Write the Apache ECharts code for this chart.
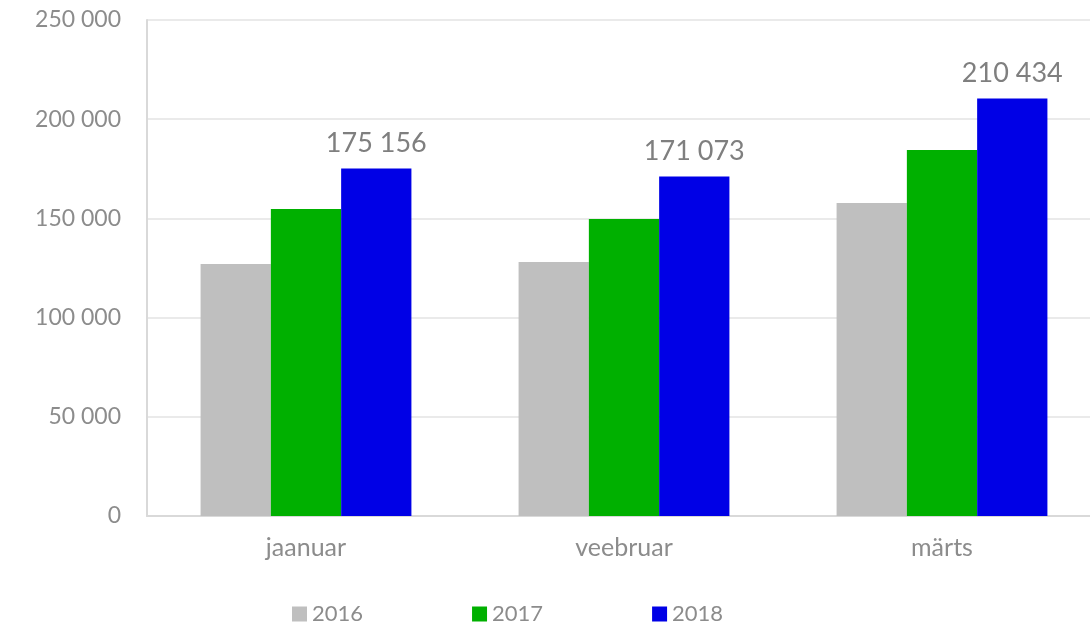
<!DOCTYPE html>
<html>
<head>
<meta charset="utf-8">
<script src="https://cdn.jsdelivr.net/npm/echarts@6/dist/echarts.min.js"></script>
<style>
html,body{margin:0;padding:0;background:#fff;}
#chart{width:1090px;height:632px;}
</style>
</head>
<body>
<div id="chart"></div>
<script>
var months = ['jaanuar', 'veebruar', 'märts'];
var years = ['2016', '2017', '2018'];
var v2016 = [127000, 128000, 157800];
var v2017 = [154700, 149700, 184500];
var v2018 = [175156, 171073, 210434];
var yTicks = [0, 50000, 100000, 150000, 200000, 250000];
var colors = ['#bfbfbf', '#00b000', '#0000e6'];

// tühik tuhandete eraldajaks
function fmt(n) {
	return String(n).replace(/\B(?=(\d{3})+(?!\d))/g, ' ');
}

var font = 'Lato';
var myChart = echarts.init(document.getElementById('chart'));

var option = {
	animation: false,
	color: colors,
	textStyle: { fontFamily: font },
	grid: { left: 147, width: 954, top: 20, bottom: 116, outerBoundsMode: 'none', containLabel: false },
	legend: {
		bottom: 2,
		left: 287,
		itemGap: 109,
		itemWidth: 15,
		itemHeight: 15,
		icon: 'rect',
		textStyle: { color: '#8c8c8c', fontSize: 22, fontFamily: font },
		data: years
	},
	xAxis: {
		type: 'category',
		data: months,
		axisLine: { lineStyle: { color: '#d9d9d9', width: 2 } },
		axisTick: { show: false },
		axisLabel: { color: '#8c8c8c', fontSize: 25, margin: 19 }
	},
	yAxis: {
		type: 'value',
		min: yTicks[0],
		max: yTicks[yTicks.length - 1],
		interval: 50000,
		axisLine: { show: true, lineStyle: { color: '#d9d9d9', width: 2 } },
		axisTick: { show: false },
		splitLine: { lineStyle: { color: '#e3e3e3', width: 1.5 } },
		axisLabel: { color: '#8c8c8c', fontSize: 23, margin: 26, formatter: fmt }
	},
	series: [
		{ name: years[0], type: 'bar', data: v2016, barGap: '0%', barCategoryGap: '33.7%' },
		{ name: years[1], type: 'bar', data: v2017, barGap: '0%', barCategoryGap: '33.7%' },
		{
			name: years[2], type: 'bar', data: v2018, barGap: '0%', barCategoryGap: '33.7%',
			label: {
				show: true,
				position: 'top',
				distance: 12,
				color: '#7f7f7f',
				fontSize: 27,
				fontFamily: font,
				formatter: function (p) { return fmt(p.value); }
			}
		}
	]
};
myChart.setOption(option);
</script>
</body>
</html>
